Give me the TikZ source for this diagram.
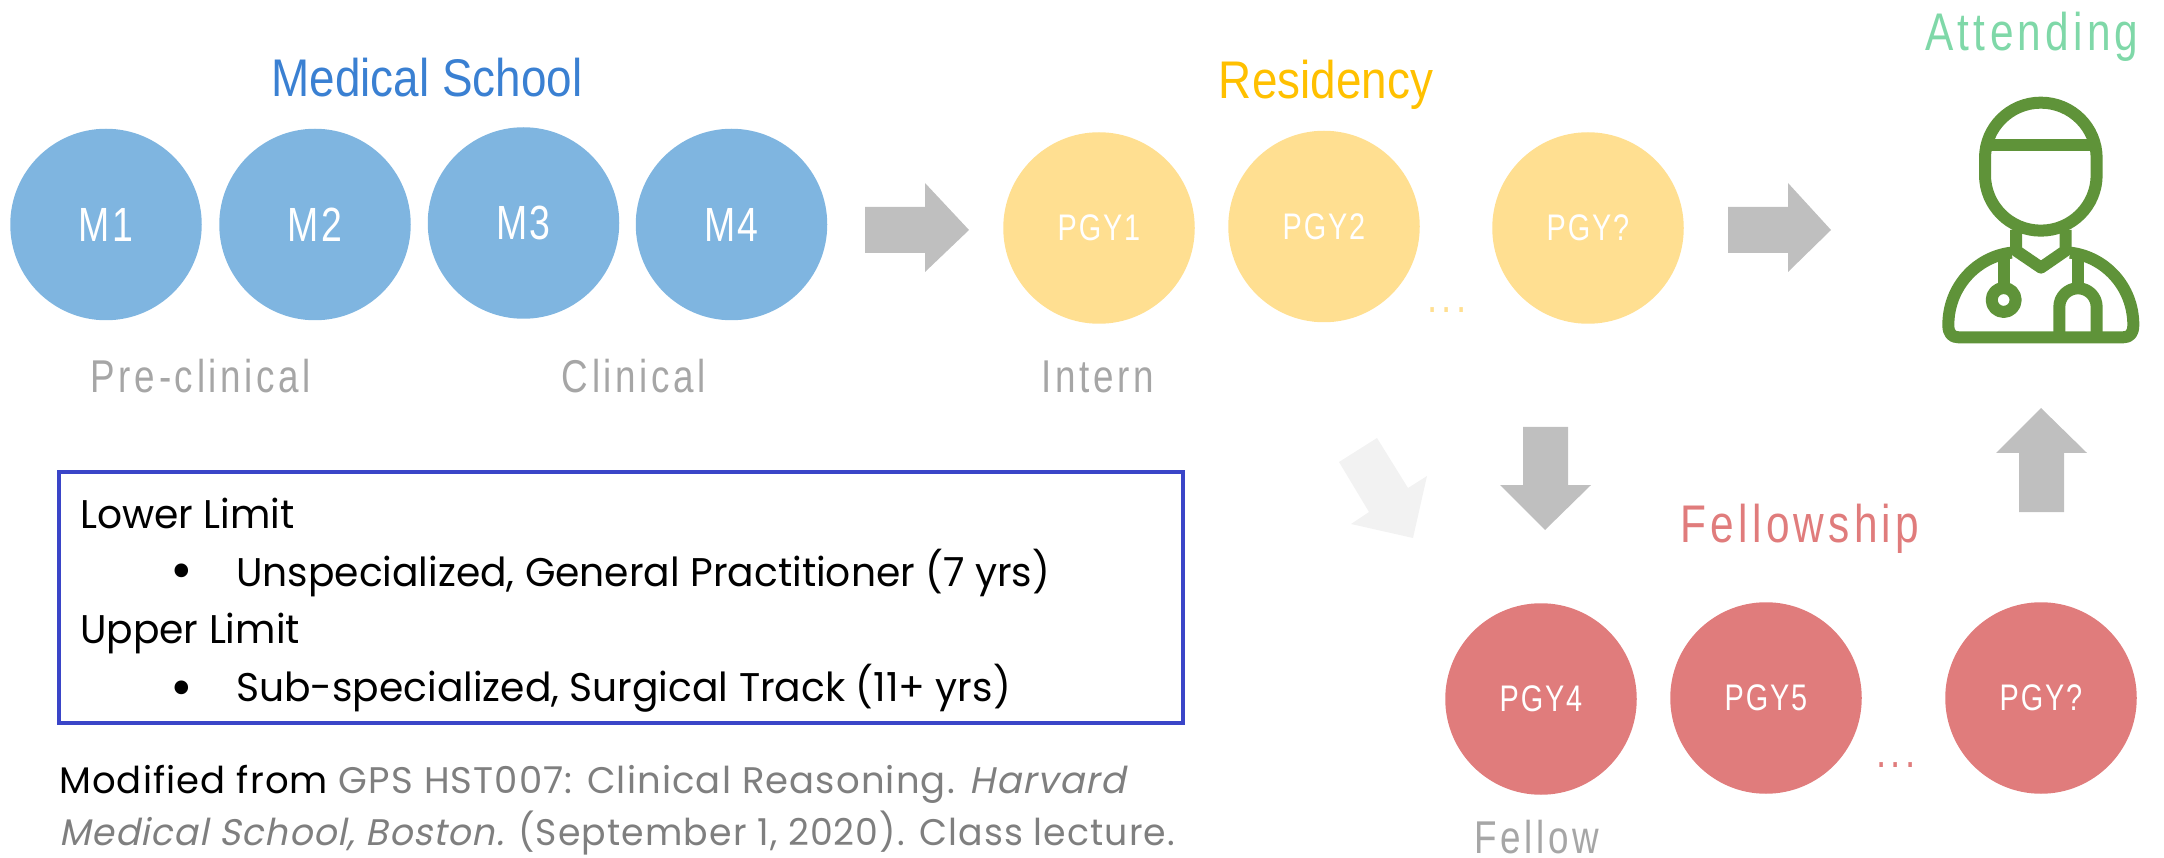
\documentclass[tikz,border=0pt]{standalone}
\usepackage{fontspec}
\setmainfont{Liberation Sans}
\newfontfamily\fa[FakeStretch=0.865]{Liberation Sans}
\newfontfamily\fb[FakeStretch=0.8,LetterSpace=8]{Liberation Sans}
\newfontfamily\fc[FakeStretch=0.78,LetterSpace=5]{Liberation Sans}
\newfontfamily\fd[FakeStretch=0.8,LetterSpace=10]{Liberation Sans}
\newfontfamily\gothic[FakeStretch=0.98]{Poppins}
\newfontfamily\gothicr[FakeStretch=1.0,LetterSpace=3]{Poppins}
\newfontfamily\gothics[FakeStretch=0.98,LetterSpace=3]{Poppins}
\definecolor{cblue}{HTML}{7FB5E0}
\definecolor{cyel}{HTML}{FFDF91}
\definecolor{cred}{HTML}{E07C7C}
\definecolor{cgray}{HTML}{BFBFBF}
\definecolor{cfaint}{HTML}{F2F2F2}
\definecolor{cicon}{HTML}{5F9339}
\definecolor{catt}{HTML}{7FD8A8}
\definecolor{cmed}{HTML}{3A80D2}
\definecolor{cres}{HTML}{FFC000}
\definecolor{ctxt}{HTML}{A6A6A6}
\definecolor{cref}{HTML}{7F7F7F}
\definecolor{cbox}{HTML}{3A45C8}
\tikzset{
  yr/.style={circle,minimum size=191.5pt,inner sep=0pt,text=white},
  ms/.style={yr,fill=cblue,font=\fc\fontsize{48}{52}\selectfont},
  rs/.style={yr,fill=cyel,font=\fc\fontsize{37}{40}\selectfont},
  fl/.style={yr,fill=cred,font=\fc\fontsize{37}{40}\selectfont},
  heada/.style={anchor=base,inner sep=0pt,font=\fa\fontsize{53}{58}\selectfont},
  headb/.style={anchor=base,inner sep=0pt,font=\fb\fontsize{53}{58}\selectfont},
  sub/.style={anchor=base,inner sep=0pt,text=ctxt,font=\fb\fontsize{46}{50}\selectfont},
  dots/.style={anchor=base,inner sep=0pt,font=\fd\fontsize{46}{48}\selectfont},
  blk/.style={fill=cgray},
  boxt/.style={anchor=base west,inner sep=0pt,font=\gothic\fontsize{40}{44}\selectfont},
  bul/.style={anchor=center,inner sep=0pt,font=\gothic\fontsize{56}{58}\selectfont},
  reft/.style={anchor=base west,inner sep=0pt,font=\gothicr\fontsize{37}{42}\selectfont},
  refs/.style={anchor=base west,inner sep=0pt,font=\gothics\fontsize{37}{42}\selectfont},
  ic/.style={draw=cicon,line width=12pt,line join=round,line cap=butt},
}
\begin{document}
\begin{tikzpicture}[x=1pt,y=-1pt]
\useasboundingbox (0,0) rectangle (2164,858);
% circles
\node[ms] (m1) at (106,224.5) {M1};
\node[ms] (m2) at (315,224.5) {M2};
\node[ms] (m3) at (523.5,223) {M3};
\node[ms] (m4) at (731.5,224.5) {M4};
\node[rs] (p1) at (1099,228) {PGY1};
\node[rs] (p2) at (1324,226.5) {PGY2};
\node[rs] (p3) at (1588,228) {PGY?};
\node[fl] (f4) at (1541,699) {PGY4};
\node[fl] (f5) at (1766,698) {PGY5};
\node[fl] (f6) at (2041,698) {PGY?};
% headers
\node[heada,text=cmed] (tms) at (427,97) {Medical School};
\node[heada,text=cres] (trs) at (1326,99) {Residency};
\node[headb,text=catt] (tat) at (2032,51) {Attending};
\node[headb,text=cred] (tfl) at (1800,542) {Fellowship};
\node[sub] (tpc) at (201,393) {Pre-clinical};
\node[sub] (tcl) at (634,393) {Clinical};
\node[sub] (tin) at (1098,393) {Intern};
\node[sub] (tfe) at (1537,853) {Fellow};
\node[dots,text=cyel] (d1) at (1447,313) {...};
\node[dots,text=cred] (d2) at (1896,767) {...};
% block arrows
\fill[blk] (865,207)--(925,207)--(925,183)--(969,230)--(925,272)--(925,253)--(865,253)--cycle;
\fill[blk] (1728,207)--(1788,207)--(1788,183)--(1831,230)--(1788,272)--(1788,253)--(1728,253)--cycle;
\fill[blk] (1523,427)--(1568,427)--(1568,485)--(1591,485)--(1545,530)--(1500,485)--(1523,485)--cycle;
\fill[blk] (2019,512)--(2064,512)--(2064,453)--(2087,453)--(2041,408)--(1996,453)--(2019,453)--cycle;
\fill[cfaint] (1339,462)--(1377,438)--(1408,488)--(1427,476)--(1413,538)--(1351,524)--(1369,512)--cycle;
% doctor icon
\begin{scope}[shift={(1900,0)},x=0.3333pt,y=-0.3333pt]
\draw[ic] (255,475) .. controls (255,382.5) and (330,308) .. (422.5,308) .. controls (515,308) and (590,382.5) .. (590,475) -- (590,525) .. controls (590,617.5) and (515,692) .. (422.5,692) .. controls (330,692) and (255,617.5) .. (255,525) -- cycle;
\draw[ic] (262,436) -- (583,436);
\draw[ic] (348,690) -- (348,752) -- (423,803) -- (497,752) -- (497,690);
\draw[ic] (335,758) .. controls (230,770) and (145,860) .. (145,975) .. controls (145,1000) and (155,1012) .. (175,1012) -- (670,1012) .. controls (690,1012) and (700,1000) .. (700,975) .. controls (700,860) and (615,770) .. (510,758);
\draw[ic] (311,770) -- (311,860);
\draw[ic] (311,900) circle[radius=12pt];
\draw[ic] (535,770) -- (535,865);
\draw[ic] (478,1012) -- (478,921) .. controls (478,890) and (503,865) .. (534,865) .. controls (565,865) and (590,890) .. (590,921) -- (590,1012);
\end{scope}
% limits box
\node[draw=cbox,line width=3.5pt,minimum width=1124pt,minimum height=251pt,inner sep=0pt] (lim) at (621,597.5) {};
\node[boxt] (l1) at (80,528) {Lower Limit};
\node[bul] (b1) at (182,577) {•};
\node[boxt] (l2) at (236,586) {Unspecialized, General Practitioner (7 yrs)};
\node[boxt] (l3) at (80,643) {Upper Limit};
\node[bul] (b2) at (182,694) {•};
\node[boxt] (l4) at (236,701) {Sub-specialized, Surgical Track (11+ yrs)};
\node[reft] (r1) at (59,793) {Modified from \textcolor{cref}{GPS HST007: Clinical Reasoning. \addfontfeature{FakeSlant=0.2}Harvard}};
\node[refs,text=cref] (r2) at (59,845) {{\addfontfeature{FakeSlant=0.2}Medical School, Boston.} (September 1, 2020). Class lecture.};
\end{tikzpicture}
\end{document}
